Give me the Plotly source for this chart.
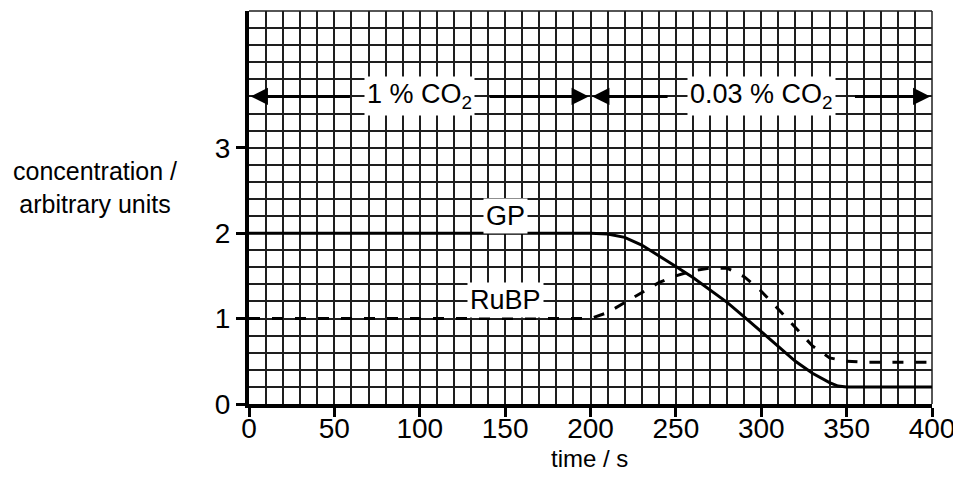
import plotly.graph_objects as go

# ---- data ----
time_s = [0, 200, 210, 220, 230, 240, 250, 260, 270, 280, 290, 300, 310, 320, 330, 340, 345, 350, 400]
gp = [2.0, 2.0, 1.99, 1.95, 1.86, 1.74, 1.61, 1.48, 1.34, 1.19, 1.02, 0.85, 0.67, 0.50, 0.36, 0.25, 0.21, 0.20, 0.20]

rubp_time = [0, 200, 210, 220, 230, 240, 250, 260, 270, 280, 290, 300, 310, 320, 330, 340, 350, 360, 400]
rubp = [1.0, 1.0, 1.07, 1.19, 1.31, 1.42, 1.50, 1.56, 1.59, 1.59, 1.49, 1.32, 1.11, 0.89, 0.68, 0.54, 0.50, 0.49, 0.49]

x_ticks = [0, 50, 100, 150, 200, 250, 300, 350, 400]
y_ticks = [0, 1, 2, 3]

period_start = [0, 200]
period_end = [200, 400]
period_label = ["1 % CO<sub>2</sub>", "0.03 % CO<sub>2</sub>"]
period_label_half = [40, 54]  # half width of label in seconds (gap for arrows)
period_y = 3.6

series_labels = ["GP", "RuBP"]
series_label_x = [150, 150]
series_label_y = [2.2, 1.22]

FONT = "Liberation Sans, Arial, sans-serif"

fig = go.Figure()
fig.add_trace(go.Scatter(x=time_s, y=gp, mode="lines",
                         line=dict(color="black", width=3), showlegend=False,
                         hoverinfo="skip"))
fig.add_trace(go.Scatter(x=rubp_time, y=rubp, mode="lines",
                         line=dict(color="black", width=3, dash="11px,12px"),
                         showlegend=False, hoverinfo="skip"))

annotations = []
for s, e, lab, hw in zip(period_start, period_end, period_label, period_label_half):
    mid = (s + e) / 2
    annotations.append(dict(x=mid, y=period_y, xref="x", yref="y", text=lab,
                            showarrow=False, bgcolor="white", borderpad=2,
                            font=dict(family=FONT, size=27, color="black")))
    # left arrow
    annotations.append(dict(x=s + 1, y=period_y, ax=mid - hw, ay=period_y,
                            xref="x", yref="y", axref="x", ayref="y", text="",
                            showarrow=True, arrowhead=2, arrowsize=1.15,
                            arrowwidth=3, arrowcolor="black", standoff=0))
    # right arrow
    annotations.append(dict(x=e - 1, y=period_y, ax=mid + hw, ay=period_y,
                            xref="x", yref="y", axref="x", ayref="y", text="",
                            showarrow=True, arrowhead=2, arrowsize=1.15,
                            arrowwidth=3, arrowcolor="black", standoff=0))

for lab, lx, ly in zip(series_labels, series_label_x, series_label_y):
    annotations.append(dict(x=lx, y=ly, xref="x", yref="y", text=lab,
                            showarrow=False, bgcolor="white", borderpad=2,
                            font=dict(family=FONT, size=27, color="black")))

annotations.append(dict(x=-0.226, y=0.552, xref="paper", yref="paper",
                        text="concentration /<br>arbitrary units", showarrow=False,
                        xanchor="center", yanchor="middle", align="center",
                        font=dict(family=FONT, size=25, color="black")))
annotations.append(dict(x=0.499, y=-0.138, xref="paper", yref="paper",
                        text="time / s", showarrow=False,
                        xanchor="center", yanchor="middle",
                        font=dict(family=FONT, size=24, color="black")))

grid_color = "#1e1e1e"
# the page body adds an 8px margin, so the figure is sized 8px smaller
fig.update_layout(
    width=953, height=487,
    margin=dict(l=241, r=29, t=3, b=91),
    paper_bgcolor="white", plot_bgcolor="white",
    font=dict(family=FONT, color="black"),
    annotations=annotations,
    shapes=[
        dict(type="line", xref="paper", yref="paper", x0=0, x1=1, y0=1, y1=1,
             line=dict(color=grid_color, width=1.5), layer="below"),
        dict(type="line", xref="paper", yref="paper", x0=1, x1=1, y0=0, y1=1,
             line=dict(color=grid_color, width=1.5), layer="below"),
    ],
    xaxis=dict(range=[0, 400], tickmode="array", tickvals=x_ticks,
               ticktext=[str(v) for v in x_ticks],
               showgrid=True, gridcolor=grid_color, gridwidth=1.5,
               zeroline=False, showline=True, linecolor="black", linewidth=4,
               ticks="outside", ticklen=9, tickwidth=3, tickcolor="black",
               ticklabelstandoff=-13,
               tickfont=dict(family=FONT, size=28, color="black"),
               minor=dict(tickmode="linear", tick0=0, dtick=10, showgrid=True,
                          gridcolor=grid_color, gridwidth=1.5, ticks=""),
               fixedrange=True),
    yaxis=dict(range=[0, 4.6], tickmode="array", tickvals=y_ticks,
               ticktext=[str(v) for v in y_ticks],
               showgrid=True, gridcolor=grid_color, gridwidth=1.5,
               zeroline=False, showline=True, linecolor="black", linewidth=4,
               ticks="outside", ticklen=9, tickwidth=3, tickcolor="black",
               tickfont=dict(family=FONT, size=28, color="black"),
               minor=dict(tickmode="linear", tick0=0, dtick=0.2, showgrid=True,
                          gridcolor=grid_color, gridwidth=1.5, ticks=""),
               fixedrange=True),
)

fig.write_html("out.html")
